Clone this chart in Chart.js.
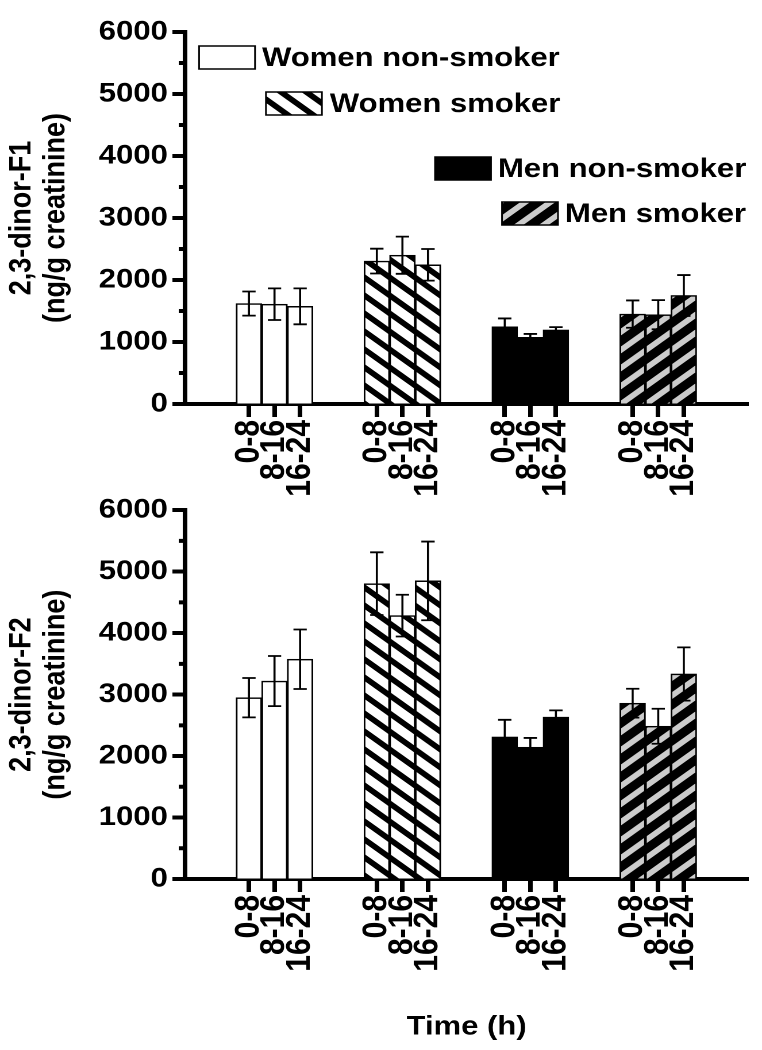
<!DOCTYPE html>
<html><head><meta charset="utf-8">
<script src="https://cdn.jsdelivr.net/npm/chart.js@4.4.0/dist/chart.umd.min.js"></script>
<style>
html,body{margin:0;padding:0;background:#fff;width:762px;height:1050px;overflow:hidden;}
.wrap{position:absolute;left:0;width:663px;transform:scaleX(1.1493);transform-origin:0 0;}
#w1{top:0;height:500px;}
#w2{top:490px;height:560px;}
</style></head><body>
<div class="wrap" id="w1"><canvas id="c1"></canvas></div>
<div class="wrap" id="w2"><canvas id="c2"></canvas></div>
<script>
// ---------- data ----------
const groups  = ['Women non-smoker', 'Women smoker', 'Men non-smoker', 'Men smoker'];
const periods = ['0-8', '8-16', '16-24'];

const f1WomenNonSmoker = [1620, 1610, 1575];
const f1WomenSmoker    = [2305, 2400, 2245];
const f1MenNonSmoker   = [1245, 1075, 1195];
const f1MenSmoker      = [1450, 1440, 1750];
const f1WomenNonSmokerErr = [195, 255, 290];
const f1WomenSmokerErr    = [200, 300, 255];
const f1MenNonSmokerErr   = [135, 55, 45];
const f1MenSmokerErr      = [220, 235, 330];

const f2WomenNonSmoker = [2950, 3220, 3575];
const f2WomenSmoker    = [4805, 4285, 4850];
const f2MenNonSmoker   = [2310, 2145, 2635];
const f2MenSmoker      = [2860, 2485, 3335];
const f2WomenNonSmokerErr = [320, 408, 484];
const f2WomenSmokerErr    = [510, 340, 640];
const f2MenNonSmokerErr   = [280, 150, 108];
const f2MenSmokerErr      = [235, 285, 433];

const yTicks = [0, 1000, 2000, 3000, 4000, 5000, 6000];

// ---------- styling ----------
const FONT = "'Liberation Sans', Arial, Helvetica, sans-serif";
const GAP = 2; // empty slots between groups

function stripePattern(bg, fg, dir, w, h, lw) {
  const S = 2;
  const c = document.createElement('canvas');
  c.width = w * S; c.height = h * S;
  const g = c.getContext('2d');
  g.scale(S, S);
  g.fillStyle = bg; g.fillRect(0, 0, w, h);
  g.strokeStyle = fg; g.lineWidth = lw;
  g.beginPath();
  for (let k = -2; k <= 2; k++) {
    if (dir === 'down') { g.moveTo(k * w - w, -h); g.lineTo(k * w + 2 * w, 2 * h); }
    else { g.moveTo(k * w - w, 2 * h); g.lineTo(k * w + 2 * w, -h); }
  }
  g.stroke();
  const p = g.createPattern(c, 'repeat');
  p.setTransform(new DOMMatrix().scale(1 / S));
  return p;
}
const fills = [
  '#ffffff',
  stripePattern('#ffffff', '#000000', 'down', 22, 18, 5.4),
  '#000000',
  stripePattern('#000000', '#cccccc', 'up', 22, 18, 5.4)
];

const xTicks = [];
groups.forEach((g, gi) => periods.forEach((p, pi) => xTicks.push({ value: gi * (periods.length + GAP) + pi, label: p })));

function buildDatasets(means, errs) {
  return groups.map((g, gi) => ({
    label: g,
    data: periods.map((p, pi) => ({ x: gi * (periods.length + GAP) + pi, y: means[gi][pi] })),
    errors: errs[gi],
    backgroundColor: fills[gi],
    borderColor: '#000',
    borderWidth: 1.5,
    grouped: false,
    categoryPercentage: 1,
    barPercentage: 1
  }));
}

const errorBarPlugin = {
  id: 'errbars',
  afterDatasetsDraw(chart) {
    const { ctx, scales: { y } } = chart;
    chart.data.datasets.forEach((ds, di) => {
      const meta = chart.getDatasetMeta(di);
      meta.data.forEach((bar, i) => {
        const m = ds.data[i].y, e = ds.errors[i];
        const yt = y.getPixelForValue(m + e), yb = y.getPixelForValue(m - e);
        const cw = 5.8;
        ctx.save();
        ctx.strokeStyle = '#000'; ctx.lineWidth = 1.8;
        ctx.beginPath();
        ctx.moveTo(bar.x, yt); ctx.lineTo(bar.x, yb);
        ctx.moveTo(bar.x - cw, yt); ctx.lineTo(bar.x + cw, yt);
        ctx.moveTo(bar.x - cw, yb); ctx.lineTo(bar.x + cw, yb);
        ctx.stroke();
        ctx.restore();
      });
    });
  }
};

const minorTickPlugin = {
  id: 'minorTicks',
  afterDraw(chart) {
    const { ctx, scales: { y }, chartArea } = chart;
    ctx.save();
    ctx.strokeStyle = '#000'; ctx.lineWidth = 4;
    ctx.beginPath();
    for (let i = 0; i < yTicks.length - 1; i++) {
      const v = (yTicks[i] + yTicks[i + 1]) / 2;
      const py = y.getPixelForValue(v);
      ctx.moveTo(chartArea.left - 5.5, py); ctx.lineTo(chartArea.left, py);
    }
    ctx.stroke();
    ctx.restore();
  }
};

const legendPlugin = {
  id: 'stagLegend',
  afterDraw(chart, args, opts) {
    if (!opts || !opts.items) return;
    const { ctx, chartArea } = chart;
    ctx.save();
    opts.items.forEach((it, i) => {
      const ds = chart.data.datasets[i];
      const bx = chartArea.left + it.bx, by = chartArea.top + it.by;
      ctx.fillStyle = ds.backgroundColor;
      ctx.fillRect(bx, by, opts.boxW, opts.boxH);
      ctx.strokeStyle = '#000'; ctx.lineWidth = 1.5;
      ctx.strokeRect(bx, by, opts.boxW, opts.boxH);
      ctx.fillStyle = '#000';
      ctx.font = 'bold ' + opts.fontSize + 'px ' + FONT;
      ctx.textBaseline = 'middle'; ctx.textAlign = 'left';
      ctx.fillText(ds.label, chartArea.left + it.tx, by + opts.boxH / 2 + 1);
    });
    ctx.restore();
  }
};

function makeChart(id, means, errs, yTitle, o) {
  return new Chart(document.getElementById(id), {
    type: 'bar',
    data: { datasets: buildDatasets(means, errs) },
    plugins: [errorBarPlugin, minorTickPlugin, legendPlugin],
    options: {
      animation: false,
      responsive: true,
      maintainAspectRatio: false,
      devicePixelRatio: 2,
      layout: { padding: { top: o.padTop, right: 12, left: 0, bottom: 0 } },
      plugins: {
        legend: { display: false },
        tooltip: { enabled: false },
        stagLegend: o.legend ? {
          boxW: 48.7, boxH: 23, fontSize: 27,
          items: [
            { bx: 12.2, by: 14, tx: 67 },
            { bx: 70.4, by: 60, tx: 126 },
            { bx: 217.5, by: 125, tx: 272.3 },
            { bx: 275.8, by: 170, tx: 330.6 }
          ]
        } : false
      },
      scales: {
        x: {
          type: 'linear',
          min: -1.58, max: 18.6,
          afterBuildTicks: (s) => { s.ticks = xTicks.map(t => ({ value: t.value })); },
          afterFit: (s) => { s.height = o.xHeight; },
          ticks: {
            autoSkip: false, minRotation: 90, maxRotation: 90, padding: 3, color: '#000',
            font: { family: FONT, size: 30, weight: 'bold' },
            callback: (v, i) => xTicks[i].label
          },
          grid: { drawOnChartArea: false, tickLength: 13, tickWidth: 4, tickColor: '#000', offset: false },
          border: { display: true, color: '#000', width: 4 },
          title: {
            display: o.xTitle, text: 'Time (h)', color: '#000',
            font: { family: FONT, size: 27, weight: 'bold' },
            padding: { top: 0, bottom: 7 }
          }
        },
        y: {
          min: 0, max: 6000,
          afterBuildTicks: (s) => { s.ticks = yTicks.map(v => ({ value: v })); },
          afterFit: (s) => { s.width = 161; },
          ticks: {
            color: '#000', padding: 4,
            font: { family: FONT, size: 27, weight: 'bold' },
            callback: (v) => String(v)
          },
          grid: { drawOnChartArea: false, tickLength: 11, tickWidth: 4, tickColor: '#000' },
          border: { display: true, color: '#000', width: 4 },
          title: {
            display: true, text: yTitle, color: '#000',
            font: { family: FONT, size: 27, weight: 'bold', lineHeight: 1.1 },
            padding: { top: 4, bottom: 0 }
          }
        }
      }
    }
  });
}

makeChart('c1',
  [f1WomenNonSmoker, f1WomenSmoker, f1MenNonSmoker, f1MenSmoker],
  [f1WomenNonSmokerErr, f1WomenSmokerErr, f1MenNonSmokerErr, f1MenSmokerErr],
  ['2,3-dinor-F1', '(ng/g creatinine)'],
  { padTop: 32, xHeight: 96, legend: true, xTitle: false });

makeChart('c2',
  [f2WomenNonSmoker, f2WomenSmoker, f2MenNonSmoker, f2MenSmoker],
  [f2WomenNonSmokerErr, f2WomenSmokerErr, f2MenNonSmokerErr, f2MenSmokerErr],
  ['2,3-dinor-F2', '(ng/g creatinine)'],
  { padTop: 17, xHeight: 171, legend: false, xTitle: true });
</script>
</body></html>
